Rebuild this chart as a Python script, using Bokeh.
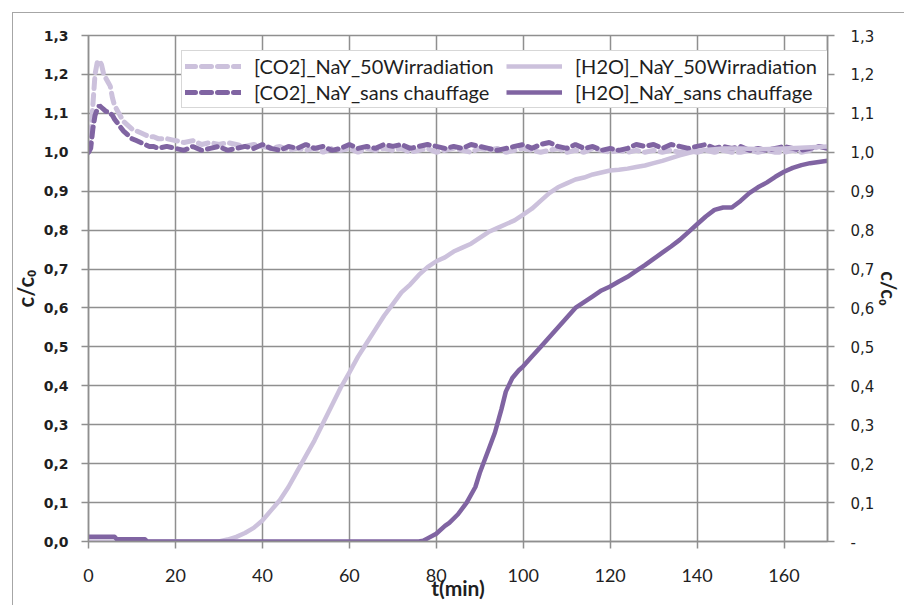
from bokeh.plotting import figure
from bokeh.models import (Range1d, LinearAxis, Legend, LegendItem, FixedTicker,
                          CustomJSTickFormatter, InlineStyleSheet)
from bokeh.embed import file_html
from bokeh.resources import INLINE

# ---------------- data ----------------
t_co2 = [0, 0.5, 1, 1.5, 2, 2.5, 3, 3.5, 4, 4.5, 5, 5.5, 6, 7, 8, 9, 10, 11, 12, 13, 14, 15, 16,
         18, 20, 22, 24, 26, 28, 30, 32, 34, 36,
         38, 40, 42, 44, 46, 48, 50, 52, 54, 56,
         58, 60, 62, 64, 66, 68, 70, 72, 74, 76,
         78, 80, 82, 84, 86, 88, 90, 92, 94, 96,
         98, 100, 102, 104, 106, 108, 110, 112, 114, 116,
         118, 120, 122, 124, 126, 128, 130, 132, 134, 136,
         138, 140, 142, 144, 146, 148, 150, 152, 154, 156,
         158, 160, 162, 164, 166, 168, 170]

co2_50w = [1.000, 1.040, 1.120, 1.200, 1.230, 1.235, 1.225, 1.200, 1.190, 1.180, 1.170, 1.140,
           1.120, 1.100, 1.080, 1.070, 1.060, 1.055, 1.050, 1.045, 1.040, 1.040, 1.035,
           1.035, 1.030, 1.025, 1.030, 1.020, 1.025, 1.020, 1.025, 1.020, 1.015,
           1.020, 1.015, 1.010, 1.015, 1.005, 1.010, 1.005, 1.010, 1.000, 1.010,
           1.005, 1.010, 1.000, 1.010, 1.005, 1.010, 1.005, 1.010, 1.000, 1.005,
           1.010, 1.000, 1.005, 1.010, 1.005, 1.000, 1.010, 1.005, 1.010, 1.000,
           1.005, 1.010, 1.005, 1.000, 1.005, 1.010, 1.000, 1.005, 1.000, 1.010,
           1.005, 1.000, 1.005, 1.000, 1.005, 1.000, 1.005, 1.000, 1.005, 1.000,
           1.005, 1.000, 1.005, 1.000, 1.005, 1.000, 1.000, 1.005, 1.000, 1.005,
           1.000, 1.000, 1.005, 1.000, 1.005, 1.015, 1.010]

co2_sans = [1.000, 1.010, 1.060, 1.095, 1.110, 1.120, 1.115, 1.110, 1.105, 1.105, 1.100, 1.095,
            1.085, 1.070, 1.055, 1.045, 1.035, 1.030, 1.025, 1.020, 1.015, 1.015, 1.010,
            1.015, 1.010, 1.005, 1.015, 1.005, 1.010, 1.015, 1.005, 1.010, 1.015,
            1.010, 1.020, 1.010, 1.005, 1.015, 1.010, 1.020, 1.010, 1.015, 1.005,
            1.010, 1.020, 1.010, 1.015, 1.010, 1.020, 1.015, 1.020, 1.010, 1.015,
            1.020, 1.015, 1.010, 1.015, 1.010, 1.020, 1.015, 1.010, 1.005, 1.010,
            1.015, 1.020, 1.010, 1.020, 1.025, 1.015, 1.010, 1.020, 1.010, 1.015,
            1.005, 1.010, 1.005, 1.010, 1.020, 1.015, 1.020, 1.010, 1.020, 1.015,
            1.010, 1.015, 1.020, 1.010, 1.015, 1.010, 1.015, 1.005, 1.010, 1.005,
            1.010, 1.015, 1.010, 1.005, 1.010, 1.015, 1.010]

t_h2o_50w = [0, 10, 20, 30, 32, 34, 36, 38, 40, 42, 44, 46, 48, 50, 52, 54, 56, 58, 60, 62,
             64, 66, 68, 70, 72, 74, 76, 78, 80, 82, 84, 86, 88, 90, 92, 94, 96, 98, 100, 102,
             104, 106, 108, 110, 112, 114, 116, 118, 120, 122, 124, 126, 128, 130, 132, 134,
             136, 138, 140, 142, 144, 146, 150, 155, 160, 165, 170]
h2o_50w = [0, 0, 0, 0, 0.005, 0.012, 0.022, 0.035, 0.054, 0.08, 0.106, 0.14, 0.18, 0.22,
           0.26, 0.305, 0.35, 0.395, 0.434, 0.475, 0.51, 0.545, 0.58, 0.61, 0.64, 0.66,
           0.685, 0.705, 0.72, 0.73, 0.745, 0.755, 0.765, 0.78, 0.795, 0.805, 0.815, 0.825,
           0.84, 0.855, 0.875, 0.895, 0.91, 0.92, 0.93, 0.935, 0.943, 0.948, 0.953, 0.955,
           0.958, 0.962, 0.966, 0.972, 0.978, 0.985, 0.992, 0.998, 1.003, 1.006, 1.008, 1.01,
           1.01, 1.008, 1.01, 1.012, 1.015]

t_h2o_sans = [0, 6, 6.5, 13, 13.5, 30, 50, 76, 77, 78, 80, 82, 83, 85, 87, 89, 90, 92, 93.5, 95,
              96, 97.5, 99, 100, 102, 104, 106, 108, 110, 112, 114, 116, 118, 120, 122, 124,
              126, 128, 130, 132, 134, 136, 138, 140, 142, 144, 146, 148, 150, 152, 154, 156,
              158, 160, 162, 164, 166, 168, 170]
h2o_sans = [0.012, 0.012, 0.006, 0.006, 0.0, 0.0, 0.0, 0.0, 0.002, 0.008, 0.02, 0.04, 0.048,
            0.07, 0.1, 0.14, 0.176, 0.235, 0.28, 0.34, 0.385, 0.42, 0.44, 0.45, 0.475, 0.5,
            0.525, 0.55, 0.575, 0.6, 0.615, 0.63, 0.645, 0.655, 0.668, 0.68, 0.695, 0.71,
            0.726, 0.742, 0.758, 0.775, 0.795, 0.815, 0.835, 0.852, 0.858, 0.858, 0.875,
            0.895, 0.91, 0.922, 0.937, 0.95, 0.96, 0.967, 0.972, 0.975, 0.978]

x_ticks = [0, 20, 40, 60, 80, 100, 120, 140, 160]
y_ticks = [0.0, 0.1, 0.2, 0.3, 0.4, 0.5, 0.6, 0.7, 0.8, 0.9, 1.0, 1.1, 1.2, 1.3]

labels = ["[CO2]_NaY_50Wirradiation", "[CO2]_NaY_sans chauffage",
          "[H2O]_NaY_50Wirradiation", "[H2O]_NaY_sans chauffage"]
x_label = "t(min)"
y_label = "c/c\u2080"

# ---------------- style ----------------
LIGHT = "#CCC1DC"
DARK = "#8064A2"
GRID = "#8F8F8F"
TXT = "#1F1F1F"

p = figure(width=904, height=605, x_range=Range1d(0, 170), y_range=Range1d(0, 1.3),
           output_backend="svg", toolbar_location=None,
           min_border_left=88, min_border_right=73, min_border_top=35, min_border_bottom=64)
p.background_fill_color = "white"
p.border_fill_color = "white"
p.outline_line_color = GRID
p.outline_line_width = 1.5

# outer chart-area border (left and top edges)
p.stylesheets = [InlineStyleSheet(css=(
    ":host::after { content: ''; position: absolute; left: 12px; top: 12px; right: 0; "
    "bottom: 0; border-left: 1px solid #A6A6A6; border-top: 1px solid #A6A6A6; "
    "pointer-events: none; z-index: 5; }"))]

p.xgrid.ticker = FixedTicker(ticks=x_ticks)
p.ygrid.ticker = FixedTicker(ticks=y_ticks)
for g in (p.xgrid[0], p.ygrid[0]):
    g.grid_line_color = GRID
    g.grid_line_width = 1.5

fmt_left = CustomJSTickFormatter(code="return tick.toFixed(1).replace('.', ',');")
fmt_right = CustomJSTickFormatter(
    code="return Math.abs(tick) < 1e-9 ? '-' : tick.toFixed(1).replace('.', ',');")

xa = p.xaxis[0]
xa.ticker = FixedTicker(ticks=x_ticks)
xa.major_label_text_font = "Lato"
xa.major_label_text_font_size = "18px"
xa.major_label_text_color = TXT
xa.major_label_standoff = 20
xa.axis_label = x_label
xa.axis_label_text_font = "Lato"
xa.axis_label_text_font_style = "bold"
xa.axis_label_text_font_size = "21px"
xa.axis_label_text_color = TXT
xa.axis_label_standoff = -10

ya = p.yaxis[0]
ya.ticker = FixedTicker(ticks=y_ticks)
ya.formatter = fmt_left
ya.major_label_text_font = "DejaVu Sans"
ya.major_label_text_font_style = "bold"
ya.major_label_text_font_size = "14px"
ya.major_label_text_color = TXT
ya.major_label_standoff = 13
ya.axis_label = y_label
ya.axis_label_text_font = "Lato"
ya.axis_label_text_font_style = "bold"
ya.axis_label_text_font_size = "22px"
ya.axis_label_text_color = TXT
ya.axis_label_standoff = 2

ra = LinearAxis(ticker=FixedTicker(ticks=y_ticks), formatter=fmt_right)
ra.major_label_text_font = "DejaVu Sans"
ra.major_label_text_font_size = "15px"
ra.major_label_text_color = TXT
ra.major_label_standoff = 16
ra.axis_label = y_label
ra.axis_label_text_font = "Lato"
ra.axis_label_text_font_style = "bold"
ra.axis_label_text_font_size = "20px"
ra.axis_label_text_color = TXT
ra.axis_label_standoff = 0
p.add_layout(ra, "right")

for ax in (xa, ya, ra):
    ax.axis_line_color = GRID
    ax.axis_line_width = 1.5
    ax.major_tick_line_color = GRID
    ax.major_tick_line_width = 1.5
    ax.major_tick_out = 7
    ax.major_tick_in = 0
    ax.minor_tick_line_color = None

# ---------------- series ----------------
r1 = p.line(t_co2, co2_50w, line_color=LIGHT, line_width=5, line_dash="10 6", line_cap="round")
r2 = p.line(t_co2, co2_sans, line_color=DARK, line_width=5, line_dash="10 6", line_cap="round")
r3 = p.line(t_h2o_50w, h2o_50w, line_color=LIGHT, line_width=4.5, line_join="round")
r4 = p.line(t_h2o_sans, h2o_sans, line_color=DARK, line_width=4.5, line_join="round")

legend = Legend(items=[LegendItem(label=labels[0], renderers=[r1]),
                       LegendItem(label=labels[2], renderers=[r3]),
                       LegendItem(label=labels[1], renderers=[r2]),
                       LegendItem(label=labels[3], renderers=[r4])],
                location=(93, 433), orientation="horizontal", ncols=2)
legend.border_line_color = "#B0B0B0"
legend.border_line_width = 1
legend.background_fill_color = "white"
legend.background_fill_alpha = 1
legend.label_text_font = "Lato"
legend.label_text_font_size = "20px"
legend.label_text_color = TXT
legend.glyph_width = 56
legend.glyph_height = 20
legend.label_height = 20
legend.label_width = 250
legend.label_standoff = 13
legend.padding = 3
legend.spacing = 2
legend.margin = 0
p.add_layout(legend)

open("out.html", "w").write(file_html(p, INLINE))
